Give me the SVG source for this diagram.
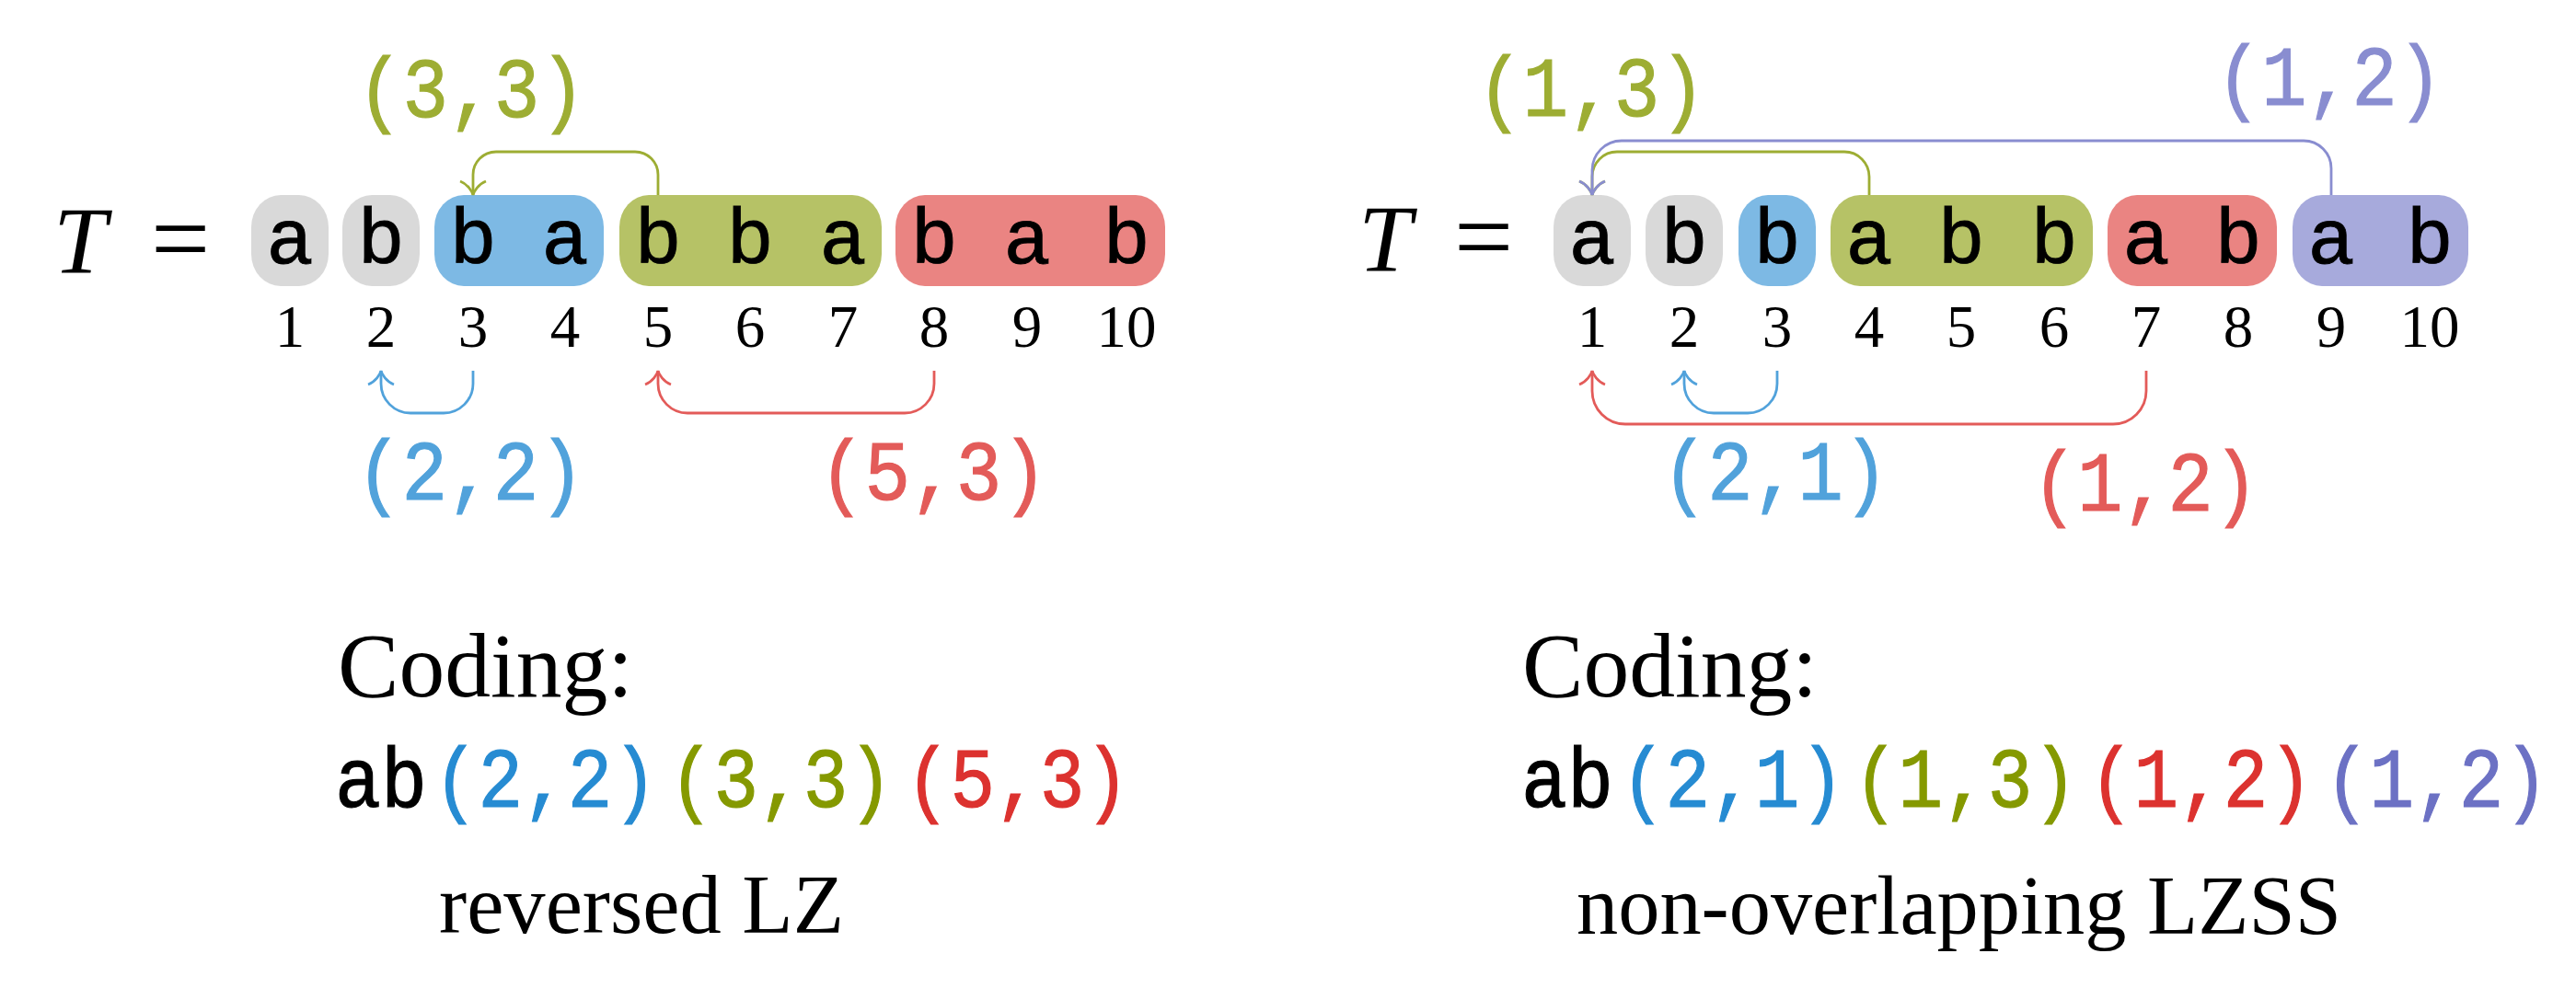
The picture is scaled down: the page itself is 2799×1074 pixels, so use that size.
<svg xmlns="http://www.w3.org/2000/svg" width="2799" height="1074" viewBox="0 0 2799 1074">
<style>
.bg{fill:#ffffff}
.gray{fill:#d9d9d9}
.bbox{fill:#7db9e4}
.gbox{fill:#b6c266}
.rbox{fill:#ea8482}
.vbox{fill:#a7aadc}
.ch{font-family:"Liberation Mono","DejaVu Sans Mono",monospace;font-size:86px;fill:#000;stroke:#000;stroke-width:0.8;text-anchor:middle}
.num{font-family:"Liberation Serif","DejaVu Serif",serif;font-size:65px;fill:#000;text-anchor:middle}
.T{font-family:"Liberation Serif","DejaVu Serif",serif;font-size:104px;font-style:italic;fill:#000}
.eq{font-family:"Liberation Serif","DejaVu Serif",serif;font-size:114px;fill:#000}
.lab{font-family:"Liberation Mono","DejaVu Sans Mono",monospace;font-size:92px;stroke-width:1.2}
.cod{font-family:"Liberation Serif","DejaVu Serif",serif;font-size:100px;fill:#000}
.cap{font-family:"Liberation Serif","DejaVu Serif",serif;font-size:90px;fill:#000}
.lg{fill:#9dad33;stroke:#9dad33}.lb{fill:#51a2db;stroke:#51a2db}.lr{fill:#e35b59;stroke:#e35b59}.lv{fill:#898dd0;stroke:#898dd0}
.cg{fill:#859900;stroke:#859900}.cb{fill:#268bd2;stroke:#268bd2}.cr{fill:#dc322f;stroke:#dc322f}.cv{fill:#6c71c4;stroke:#6c71c4}.ck{fill:#000;stroke:#000}
.arr{fill:none;stroke-width:2.8}
.ag{stroke:#9dad33}.ab{stroke:#51a2db}.ar{stroke:#e35b59}.av{stroke:#898dd0}
</style>
<defs>
<marker id="mg" markerUnits="userSpaceOnUse" viewBox="-20 -16 24 32" refX="0" refY="0" markerWidth="24" markerHeight="32" orient="auto" overflow="visible"><path d="M -15,-14 C -12,-6 -4,-1 0,0 C -4,1 -12,6 -15,14" fill="none" stroke="#9dad33" stroke-width="2.8"/></marker>
<marker id="mb" markerUnits="userSpaceOnUse" viewBox="-20 -16 24 32" refX="0" refY="0" markerWidth="24" markerHeight="32" orient="auto" overflow="visible"><path d="M -15,-14 C -12,-6 -4,-1 0,0 C -4,1 -12,6 -15,14" fill="none" stroke="#51a2db" stroke-width="2.8"/></marker>
<marker id="mr" markerUnits="userSpaceOnUse" viewBox="-20 -16 24 32" refX="0" refY="0" markerWidth="24" markerHeight="32" orient="auto" overflow="visible"><path d="M -15,-14 C -12,-6 -4,-1 0,0 C -4,1 -12,6 -15,14" fill="none" stroke="#e35b59" stroke-width="2.8"/></marker>
<marker id="mv" markerUnits="userSpaceOnUse" viewBox="-20 -16 24 32" refX="0" refY="0" markerWidth="24" markerHeight="32" orient="auto" overflow="visible"><path d="M -15,-14 C -12,-6 -4,-1 0,0 C -4,1 -12,6 -15,14" fill="none" stroke="#898dd0" stroke-width="2.8"/></marker>
</defs>
<rect class="bg" x="0" y="0" width="2799" height="1074"/>

<!-- LEFT PANEL: reversed LZ -->
<g id="left-T">
<text class="T" x="58" y="297">T</text>
<text class="eq" x="164" y="298">=</text>
</g>
<g id="left-box-1"><rect class="gray" x="273" y="212" width="84" height="99" rx="32" ry="35"/><text class="ch" x="315" y="286">a</text></g>
<g id="left-box-2"><rect class="gray" x="372" y="212" width="84" height="99" rx="32" ry="35"/><text class="ch" x="414" y="286">b</text></g>
<g id="left-box-3"><rect class="bbox" x="472" y="212" width="184" height="99" rx="32" ry="35"/><text class="ch" x="514" y="286">b</text><text class="ch" x="614" y="286">a</text></g>
<g id="left-box-4"><rect class="gbox" x="673" y="212" width="285" height="99" rx="32" ry="35"/><text class="ch" x="715" y="286">b</text><text class="ch" x="815" y="286">b</text><text class="ch" x="916" y="286">a</text></g>
<g id="left-box-5"><rect class="rbox" x="973" y="212" width="293" height="99" rx="32" ry="35"/><text class="ch" x="1015" y="286">b</text><text class="ch" x="1116" y="286">a</text><text class="ch" x="1224" y="286">b</text></g>
<g id="left-indices">
<text class="num" x="315" y="377">1</text><text class="num" x="414" y="377">2</text><text class="num" x="514" y="377">3</text><text class="num" x="614" y="377">4</text><text class="num" x="715" y="377">5</text><text class="num" x="815" y="377">6</text><text class="num" x="916" y="377">7</text><text class="num" x="1015" y="377">8</text><text class="num" x="1116" y="377">9</text><text class="num" x="1224" y="377">10</text>
</g>
<g id="left-connectors">
<path class="arr ag" d="M 715,212 V 190 A 25 25 0 0 0 690,165 H 539 A 25 25 0 0 0 514,190 V 212" marker-end="url(#mg)"/>
<path class="arr ab" d="M 514,403 V 417 A 32 32 0 0 1 482,449 H 446 A 32 32 0 0 1 414,417 V 403" marker-end="url(#mb)"/>
<path class="arr ar" d="M 1015,403 V 417 A 32 32 0 0 1 983,449 H 747 A 32 32 0 0 1 715,417 V 403" marker-end="url(#mr)"/>
</g>
<g id="left-labels">
<text class="lab lg" x="388" y="127" textLength="248" lengthAdjust="spacingAndGlyphs">(3,3)</text>
<text class="lab lb" x="387" y="543" textLength="248" lengthAdjust="spacingAndGlyphs">(2,2)</text>
<text class="lab lr" x="890" y="543" textLength="248" lengthAdjust="spacingAndGlyphs">(5,3)</text>
</g>
<g id="left-coding">
<text class="cod" x="367" y="757" textLength="321" lengthAdjust="spacingAndGlyphs">Coding:</text>
<text class="lab ck" x="364" y="877" textLength="100" lengthAdjust="spacingAndGlyphs">ab</text>
<text class="lab cb" x="471" y="877" textLength="243" lengthAdjust="spacingAndGlyphs">(2,2)</text>
<text class="lab cg" x="727" y="877" textLength="243" lengthAdjust="spacingAndGlyphs">(3,3)</text>
<text class="lab cr" x="984" y="877" textLength="243" lengthAdjust="spacingAndGlyphs">(5,3)</text>
<text class="cap" x="477" y="1014" textLength="440" lengthAdjust="spacingAndGlyphs">reversed LZ</text>
</g>

<!-- RIGHT PANEL: non-overlapping LZSS -->
<g id="right-T">
<text class="T" x="1476" y="295">T</text>
<text class="eq" x="1580" y="296">=</text>
</g>
<g id="right-box-1"><rect class="gray" x="1688" y="212" width="84" height="99" rx="32" ry="35"/><text class="ch" x="1730" y="286">a</text></g>
<g id="right-box-2"><rect class="gray" x="1788" y="212" width="84" height="99" rx="32" ry="35"/><text class="ch" x="1830" y="286">b</text></g>
<g id="right-box-3"><rect class="bbox" x="1889" y="212" width="84" height="99" rx="32" ry="35"/><text class="ch" x="1931" y="286">b</text></g>
<g id="right-box-4"><rect class="gbox" x="1989" y="212" width="285" height="99" rx="32" ry="35"/><text class="ch" x="2031" y="286">a</text><text class="ch" x="2131" y="286">b</text><text class="ch" x="2232" y="286">b</text></g>
<g id="right-box-5"><rect class="rbox" x="2290" y="212" width="184" height="99" rx="32" ry="35"/><text class="ch" x="2332" y="286">a</text><text class="ch" x="2432" y="286">b</text></g>
<g id="right-box-6"><rect class="vbox" x="2491" y="212" width="191" height="99" rx="32" ry="35"/><text class="ch" x="2533" y="286">a</text><text class="ch" x="2640" y="286">b</text></g>
<g id="right-indices">
<text class="num" x="1730" y="377">1</text><text class="num" x="1830" y="377">2</text><text class="num" x="1931" y="377">3</text><text class="num" x="2031" y="377">4</text><text class="num" x="2131" y="377">5</text><text class="num" x="2232" y="377">6</text><text class="num" x="2332" y="377">7</text><text class="num" x="2432" y="377">8</text><text class="num" x="2533" y="377">9</text><text class="num" x="2640" y="377">10</text>
</g>
<g id="right-connectors">
<path class="arr ag" d="M 2031,212 V 192 A 27 27 0 0 0 2004,165 H 1757 A 27 27 0 0 0 1730,192 V 212" marker-end="url(#mg)"/>
<path class="arr av" d="M 2533,212 V 183 A 30 30 0 0 0 2503,153 H 1762 A 32 32 0 0 0 1730,185 V 212" marker-end="url(#mv)"/>
<path class="arr ab" d="M 1931,403 V 417 A 32 32 0 0 1 1899,449 H 1862 A 32 32 0 0 1 1830,417 V 403" marker-end="url(#mb)"/>
<path class="arr ar" d="M 2332,403 V 425 A 36 36 0 0 1 2296,461 H 1766 A 36 36 0 0 1 1730,425 V 403" marker-end="url(#mr)"/>
</g>
<g id="right-labels">
<text class="lab lg" x="1605" y="126" textLength="248" lengthAdjust="spacingAndGlyphs">(1,3)</text>
<text class="lab lv" x="2408" y="114" textLength="246" lengthAdjust="spacingAndGlyphs">(1,2)</text>
<text class="lab lb" x="1806" y="543" textLength="246" lengthAdjust="spacingAndGlyphs">(2,1)</text>
<text class="lab lr" x="2208" y="555" textLength="246" lengthAdjust="spacingAndGlyphs">(1,2)</text>
</g>
<g id="right-coding">
<text class="cod" x="1654" y="757" textLength="321" lengthAdjust="spacingAndGlyphs">Coding:</text>
<text class="lab ck" x="1653" y="877" textLength="100" lengthAdjust="spacingAndGlyphs">ab</text>
<text class="lab cb" x="1761" y="877" textLength="243" lengthAdjust="spacingAndGlyphs">(2,1)</text>
<text class="lab cg" x="2014" y="877" textLength="243" lengthAdjust="spacingAndGlyphs">(1,3)</text>
<text class="lab cr" x="2270" y="877" textLength="243" lengthAdjust="spacingAndGlyphs">(1,2)</text>
<text class="lab cv" x="2526" y="877" textLength="243" lengthAdjust="spacingAndGlyphs">(1,2)</text>
<text class="cap" x="1713" y="1015" textLength="831" lengthAdjust="spacingAndGlyphs">non-overlapping LZSS</text>
</g>
</svg>
